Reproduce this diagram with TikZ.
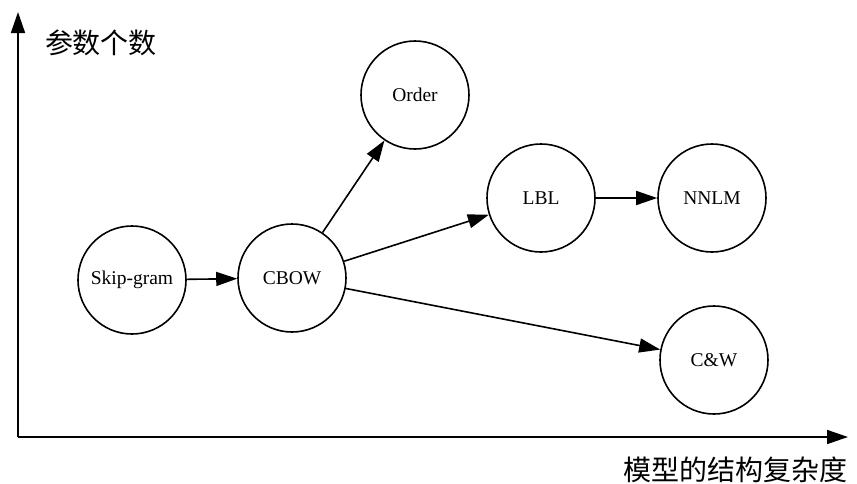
\documentclass[tikz,border=0pt]{standalone}
\usepackage{fontspec}
\setmainfont{Liberation Serif}
\newfontfamily\cjk{Noto Sans CJK SC}
\usetikzlibrary{arrows.meta}
\begin{document}
\begin{tikzpicture}[x=1pt,y=-1pt,
  wnode/.style={circle,draw,line width=1.6pt,minimum size=108pt,inner sep=0pt,font=\fontsize{19.5}{19.5}\selectfont},
  conn/.style={line width=1.6pt,-{Triangle[length=21pt,width=14pt]}},
  axislab/.style={font=\cjk\fontsize{28}{28}\selectfont,inner sep=0pt}]
\fill[white] (0,0) rectangle (857,483);
\useasboundingbox (0,0) rectangle (857,483);
\coordinate (o) at (18,437);
\coordinate (ytip) at (18,12);
\coordinate (xtip) at (848,437);
\draw[conn] (o) -- (ytip);
\draw[conn] (o) -- (xtip);
\node[axislab] (ylab) at (101,43) {参数个数};
\node[axislab] (xlab) at (735,470) {模型的结构复杂度};
\node[wnode] (skip) at (132,280) {Skip-gram};
\node[wnode] (cbow) at (292,278) {CBOW};
\node[wnode] (order) at (415,95) {Order};
\node[wnode] (lbl) at (541,198) {LBL};
\node[wnode] (nnlm) at (712,198) {NNLM};
\node[wnode] (cw) at (714,360) {C\&W};
\draw[conn] (skip) -- (cbow);
\draw[conn] (cbow) -- (order);
\draw[conn] (cbow) -- (lbl);
\draw[conn] (lbl) -- (nnlm);
\draw[conn] (cbow) -- (cw);
\end{tikzpicture}
\end{document}
